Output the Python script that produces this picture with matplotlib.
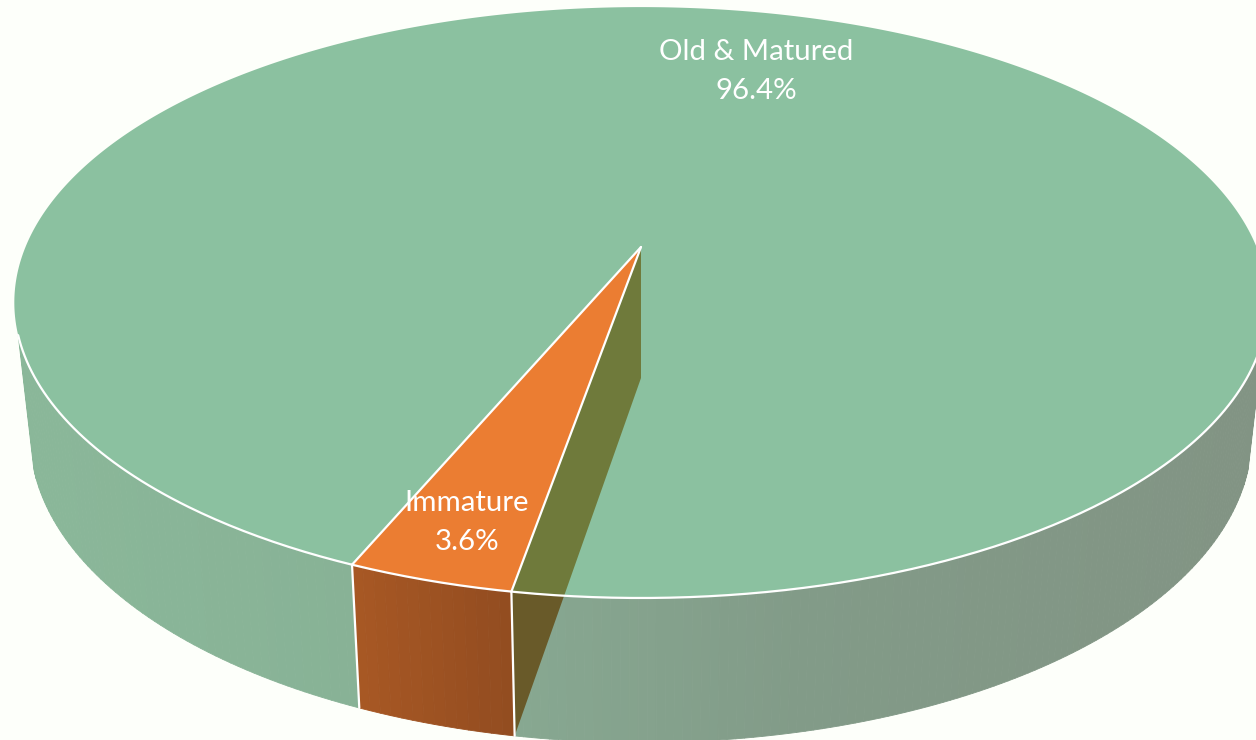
import numpy as np
import matplotlib
matplotlib.use('Agg')
import matplotlib.pyplot as plt
from matplotlib.collections import PolyCollection
from matplotlib.patches import PathPatch, Polygon
from matplotlib.path import Path

categories = ['Old & Matured', 'Immature']
shares = [96.4, 3.6]

# perspective set up of the pie, in pixels of the picture
first_edge = 22.84   # degrees from the front, towards the left, where Immature starts
cx = 641
top_cy, top_a, top_b = 247, 285, 615.5
bot_cy, bot_a, bot_b = 378, 296, 600
persp = 0.188
tangent = 73

bg = '#FDFFFA'
green = '#8BC1A0'
orange = '#EB7D32'
olive = '#6F7A3B'
dark_olive = '#695A29'

plt.rcParams['font.family'] = ['Lato', 'DejaVu Sans']


def project(theta, r=1.0, top=True):
    """theta in degrees from the front of the pie, positive to the left"""
    t = np.radians(theta)
    X = -r * np.sin(t)
    Y = r * np.cos(t)
    w = 1 - persp * Y
    if top:
        return np.column_stack([cx + top_b * X / w, top_cy + top_a * Y / w])
    return np.column_stack([cx + bot_b * X / w, bot_cy + bot_a * Y / w])


def wall(ax, t0, t1, stops_x, stops_rgb, n):
    thetas = np.linspace(t0, t1, n + 1)
    up = project(thetas)
    low = project(thetas, top=False)
    quads = []
    cols = []
    for i in range(n):
        quads.append([up[i], up[i + 1], low[i + 1], low[i]])
        xm = (up[i][0] + up[i + 1][0]) / 2
        cols.append([np.interp(xm, stops_x, [c[k] for c in stops_rgb]) / 255 for k in range(3)])
    ax.add_collection(PolyCollection(quads, facecolors=cols, edgecolors=cols, linewidths=0.6))


fig = plt.figure(figsize=(12.56, 7.40), dpi=100, facecolor=bg)
ax = fig.add_axes([0, 0, 1, 1])
ax.set_xlim(0, 1256)
ax.set_ylim(740, 0)
ax.axis('off')

sweep = shares[1] / sum(shares) * 360
edge_a = first_edge
edge_b = first_edge - sweep

# side walls
wall_x = [40, 350, 515, 800, 1250]
wall_rgb = [(138, 183, 153), (136, 178, 150), (135, 168, 145), (130, 155, 136), (130, 148, 132)]
wall(ax, tangent, edge_a, wall_x, wall_rgb, 60)
wall(ax, edge_b, -tangent, wall_x, wall_rgb, 120)
wall(ax, edge_a, edge_b, [352, 514], [(168, 88, 36), (146, 76, 32)], 14)

# top of the pie
rim = project(np.linspace(0, 360, 721))
disk = Path(rim)
ax.add_patch(PathPatch(disk, facecolor=green, edgecolor='none', zorder=2))

apex = (cx, top_cy)
pa = project(edge_a)[0]
pb = project(edge_b)[0]
pa_low = project(edge_a, top=False)[0]
pb_low = project(edge_b, top=False)[0]
arc = project(np.linspace(edge_a, edge_b, 30))
ax.add_patch(Polygon(np.vstack([[apex], arc]), closed=True, facecolor=orange, edgecolor='none', zorder=3))

# cut face of the big slice, seen through the top
face = [apex, pb, pb_low, (cx, bot_cy)]
ax.add_patch(Polygon(face, closed=True, facecolor=dark_olive, edgecolor='none', zorder=1.5))
f2 = Polygon(face, closed=True, facecolor=olive, edgecolor='none', zorder=3)
ax.add_patch(f2)
f2.set_clip_path(disk, ax.transData)

# white outlines
front = project(np.linspace(tangent, -tangent, 300))
ax.plot(front[:, 0], front[:, 1], color='white', lw=1.6, zorder=4, solid_capstyle='round')
for p, q in [(apex, pa), (apex, pb), (pa, pa_low), (pb, pb_low)]:
    ax.plot([p[0], q[0]], [p[1], q[1]], color='white', lw=1.6, zorder=4, solid_capstyle='round')

ax.text(756, 52, categories[0], color='white', fontsize=21.2, ha='center', va='center', zorder=5)
ax.text(756, 91, f'{shares[0]:.1f}%', color='white', fontsize=21.2, ha='center', va='center', zorder=5)
ax.text(467, 503, categories[1], color='white', fontsize=21.2, ha='center', va='center', zorder=5)
ax.text(467, 542, f'{shares[1]:.1f}%', color='white', fontsize=21.2, ha='center', va='center', zorder=5)

fig.savefig('out.png', dpi=100, facecolor=bg)
